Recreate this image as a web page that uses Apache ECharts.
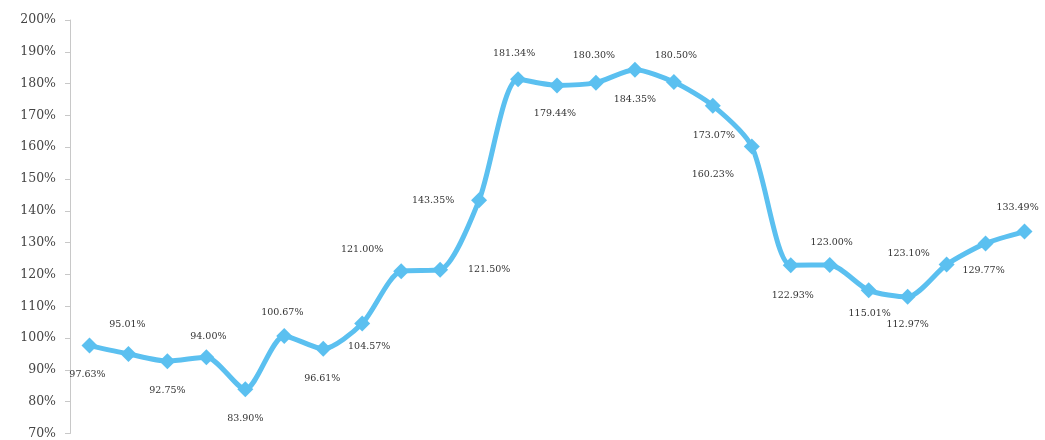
<!DOCTYPE html>
<html>
<head>
<meta charset="utf-8">
<script src="https://cdn.jsdelivr.net/npm/echarts@6/dist/echarts.min.js"></script>
<style>html,body{margin:0;padding:0;background:#fff;}#c{width:1045px;height:440px;}</style>
</head>
<body>
<div id="c"></div>
<script>
const categories = ['1','2','3','4','5','6','7','8','9','10','11','12','13','14','15','16','17','18','19','20','21','22','23','24','25'];
const values = [97.63, 95.01, 92.75, 94.00, 83.90, 100.67, 96.61, 104.57, 121.00, 121.50, 143.35, 181.34, 179.44, 180.30, 184.35, 180.50, 173.07, 160.23, 122.93, 123.00, 115.01, 112.97, 123.10, 129.77, 133.49];
const yTicks = [70, 200, 10]; // min, max, interval

// label offsets (text center relative to point), styling only
const labelOffsets = [
  [-2, 29], [-1, -29], [0, 29], [2, -21], [0, 29], [-2, -23], [-1, 30], [7, 23],
  [-39, -22], [49, 0], [-46, 0], [-4, -26], [-2, 28], [-2, -27], [0, 30], [2, -26],
  [1, 30], [-39, 28], [2, 30], [2, -22], [1, 23], [0, 28], [-38, -11], [-2, 27], [-7, -24]
];

const chart = echarts.init(document.getElementById('c'));
chart.setOption({
  animation: false,
  grid: { left: 70, right: 1, top: 20, bottom: 4, containLabel: false },
  xAxis: {
    type: 'category',
    data: categories,
    boundaryGap: true,
    show: false
  },
  yAxis: {
    type: 'value',
    min: yTicks[0], max: yTicks[1], interval: yTicks[2],
    splitLine: { show: false },
    axisLine: { show: true, lineStyle: { color: '#c8c8c8', width: 1 } },
    axisTick: { show: true, length: 5, lineStyle: { color: '#c8c8c8' } },
    axisLabel: {
      formatter: v => v + '%',
      color: '#444',
      fontFamily: 'DejaVu Serif',
      fontSize: 12.5,
      margin: 14
    }
  },
  series: [{
    type: 'line',
    data: values.map((v, i) => ({
      value: v,
      label: { offset: labelOffsets[i] }
    })),
    smooth: 0.25,
    symbol: 'diamond',
    symbolSize: 16,
    lineStyle: { color: '#5bc0f0', width: 5 },
    itemStyle: { color: '#5bc0f0' },
    label: {
      show: true,
      position: 'inside',
      align: 'center',
      verticalAlign: 'middle',
      formatter: p => p.value.toFixed(2) + '%',
      color: '#333',
      fontFamily: 'DejaVu Serif',
      fontSize: 9.5
    }
  }]
});
</script>
</body>
</html>
